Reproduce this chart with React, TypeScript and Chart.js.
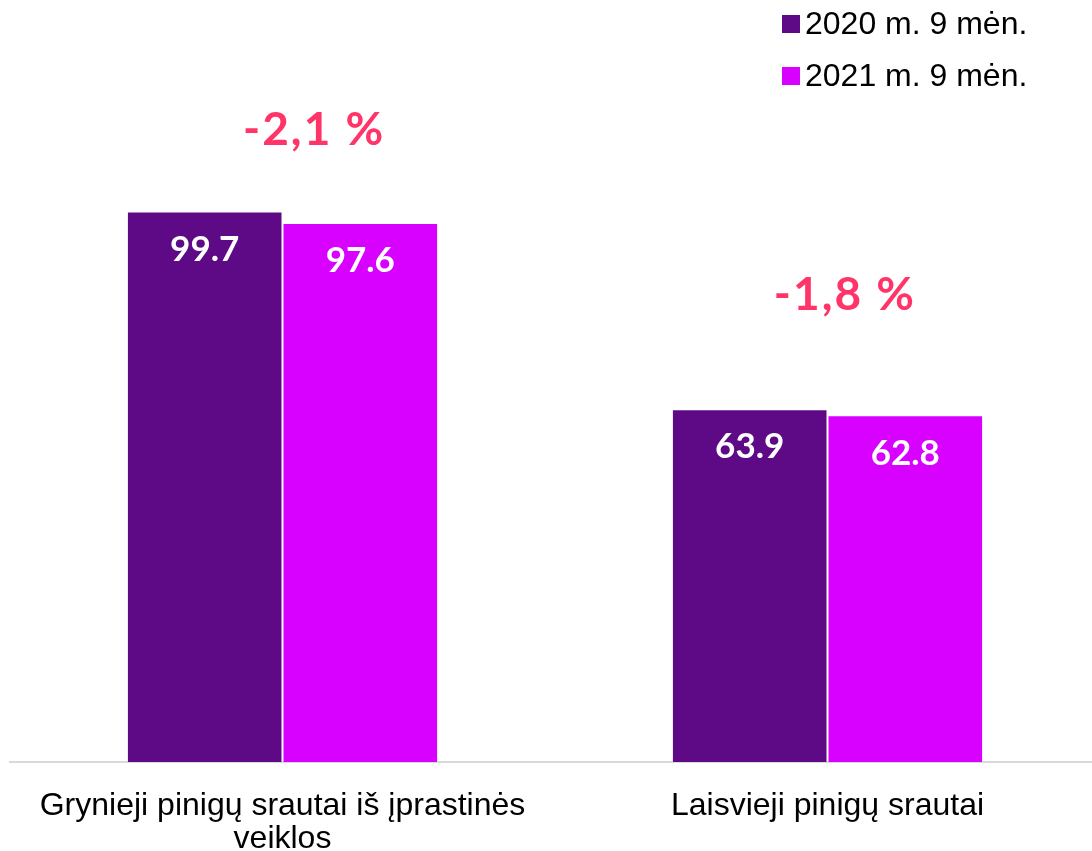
import React, { useEffect, useRef } from 'react';
import { Chart, registerables } from 'chart.js';

Chart.register(...registerables);

const categories: (string | string[])[] = [
  ['Grynieji pinigų srautai iš įprastinės', 'veiklos'],
  'Laisvieji pinigų srautai',
];
const seriesNames = ['2020 m. 9 mėn.', '2021 m. 9 mėn.'];
const values2020 = [99.7, 63.9];
const values2021 = [97.6, 62.8];
const changeLabels = ['-2,1 %', '-1,8 %'];
const changeLevels = [114.5, 84.5];
const changeShift = [0.058, 0.032];

const seriesColors = ['#5E0A87', '#D800FF'];
const changeColor = '#FF3468';

const valueLabelPlugin = {
  id: 'valueLabels',
  afterDatasetsDraw(chart: any) {
    const ctx = chart.ctx;
    ctx.save();
    ctx.fillStyle = '#FFFFFF';
    ctx.font = '700 35px Lato';
    ctx.textAlign = 'center';
    ctx.textBaseline = 'middle';
    chart.data.datasets.forEach((ds: any, di: number) => {
      const meta = chart.getDatasetMeta(di);
      meta.data.forEach((bar: any, i: number) => {
        ctx.fillText(Number(ds.data[i]).toFixed(1), bar.x, bar.y + 38);
      });
    });
    const xs = chart.scales.x;
    const ys = chart.scales.y;
    const step = xs.getPixelForValue(1) - xs.getPixelForValue(0);
    ctx.fillStyle = changeColor;
    ctx.font = '700 46px Lato';
    (ctx as any).letterSpacing = '2px';
    changeLabels.forEach((t, i) => {
      ctx.fillText(t, xs.getPixelForValue(i) + changeShift[i] * step, ys.getPixelForValue(changeLevels[i]));
    });
    ctx.restore();
  },
};

const legendPlugin = {
  id: 'customLegend',
  afterDraw(chart: any) {
    const ctx = chart.ctx;
    ctx.save();
    ctx.font = '32px "Liberation Sans", Arial, sans-serif';
    ctx.textAlign = 'left';
    ctx.textBaseline = 'middle';
    seriesNames.forEach((name, i) => {
      const cy = 24 + i * 52;
      ctx.fillStyle = seriesColors[i];
      ctx.fillRect(782, cy - 9, 18, 18);
      ctx.fillStyle = '#000000';
      ctx.fillText(name, 805, cy + 1);
    });
    ctx.restore();
  },
};

export default function App() {
  const canvasRef = useRef<HTMLCanvasElement | null>(null);

  useEffect(() => {
    document.body.style.margin = '0';
    const canvas = canvasRef.current;
    if (!canvas) return;
    const chart = new Chart(canvas, {
      type: 'bar',
      data: {
        labels: categories,
        datasets: [
          {
            label: seriesNames[0],
            data: values2020,
            backgroundColor: seriesColors[0],
            borderColor: 'rgba(255,255,255,0.45)',
            borderWidth: 1,
            barPercentage: 1,
            categoryPercentage: 0.571,
          },
          {
            label: seriesNames[1],
            data: values2021,
            backgroundColor: seriesColors[1],
            borderColor: 'rgba(255,255,255,0.45)',
            borderWidth: 1,
            barPercentage: 1,
            categoryPercentage: 0.571,
          },
        ],
      },
      options: {
        responsive: false,
        animation: false,
        devicePixelRatio: 1,
        layout: { padding: { left: 10, right: 0, top: 0, bottom: 0 } },
        plugins: {
          legend: { display: false },
          tooltip: { enabled: false },
        },
        scales: {
          x: {
            grid: { display: false, drawTicks: false },
            border: { display: true, color: '#D9D9D9', width: 2 },
            ticks: {
              color: '#000000',
              padding: 28,
              font: { family: '"Liberation Sans", Arial, sans-serif', size: 32, lineHeight: 1.03 },
              maxRotation: 0,
              autoSkip: false,
            },
          },
          y: {
            display: false,
            min: 0,
            max: 138,
          },
        },
      },
      plugins: [valueLabelPlugin, legendPlugin],
    });
    return () => chart.destroy();
  }, []);

  return (
    <div style={{ width: 1092, height: 851, overflow: 'hidden', position: 'relative' }}>
      <canvas ref={canvasRef} width={1100} height={884} style={{ display: 'block' }} />
    </div>
  );
}
